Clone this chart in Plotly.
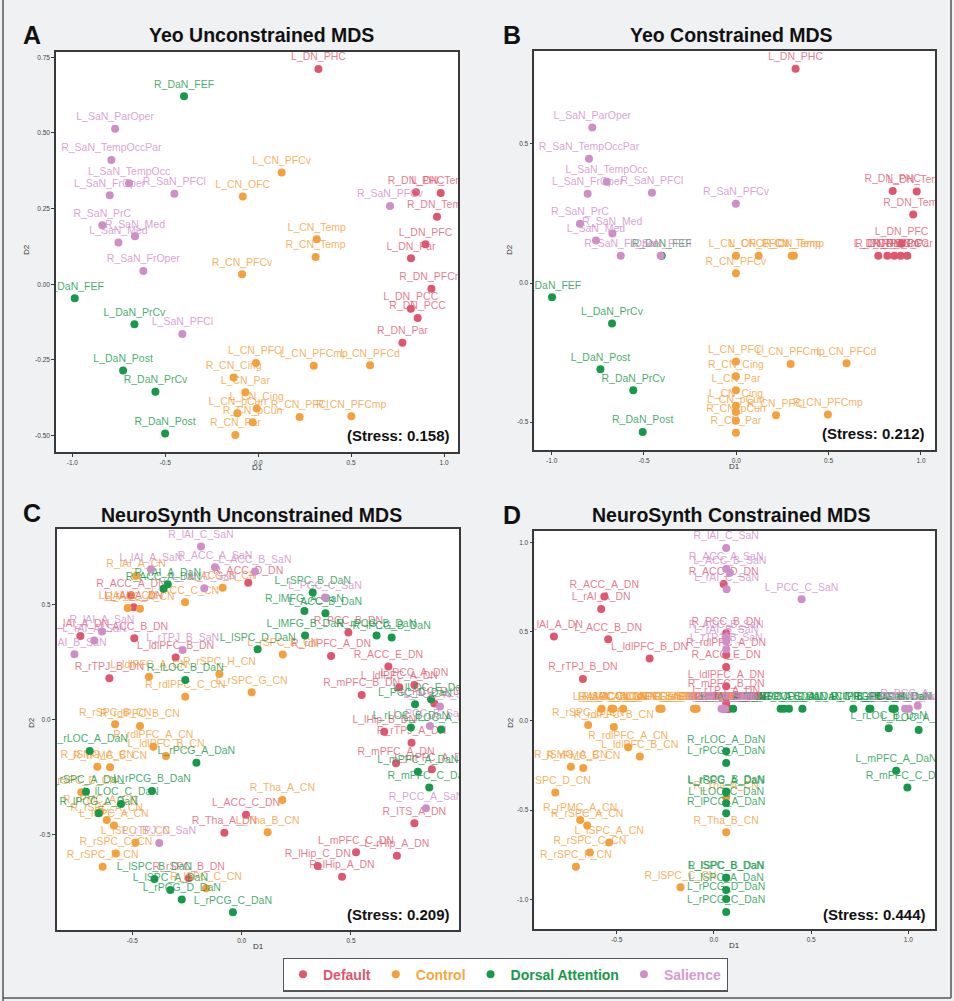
import plotly.graph_objects as go

FONT = "Liberation Sans, Arial, sans-serif"

# ---------------- Panel A: Yeo unconstrained ----------------
A_labels = ["L_DN_PHC","R_DaN_FEF","L_SaN_ParOper","R_SaN_TempOccPar","L_CN_PFCv","L_SaN_TempOcc",
            "L_SaN_FrOper","R_SaN_PFCl","L_CN_OFC","R_DN_PHC","L_DN_Temp","R_SaN_PFCv","R_DN_Temp",
            "R_SaN_PrC","R_SaN_Med","L_SaN_Med","L_CN_Temp","L_DN_PFC","R_CN_Temp","L_DN_Par",
            "R_SaN_FrOper","R_CN_PFCv","R_DN_PFCm","L_DaN_FEF","L_DN_PCC","R_DN_PCC","L_DaN_PrCv",
            "L_SaN_PFCl","R_DN_Par","L_CN_PFCl","L_CN_PFCmp","L_CN_PFCd","L_DaN_Post","R_CN_Cing",
            "L_CN_Par","R_DaN_PrCv","L_CN_Cing","L_CN_pCun","R_CN_pCun","R_CN_PFCl","R_CN_PFCmp",
            "R_CN_Par","R_DaN_Post"]
A_groups = ["DN","DaN","SaN","SaN","CN","SaN","SaN","SaN","CN","DN","DN","SaN","DN","SaN","SaN","SaN",
            "CN","DN","CN","DN","SaN","CN","DN","DaN","DN","DN","DaN","SaN","DN","CN","CN","CN","DaN",
            "CN","CN","DaN","CN","CN","CN","CN","CN","CN","DaN"]
A_x = [0.324,-0.399,-0.770,-0.790,0.126,-0.695,-0.799,-0.451,-0.083,0.849,0.982,0.709,0.962,-0.839,
       -0.663,-0.752,0.315,0.900,0.309,0.822,-0.618,-0.087,0.932,-0.987,0.821,0.858,-0.666,-0.408,
       0.776,-0.012,0.299,0.602,-0.727,-0.132,-0.069,-0.553,-0.008,-0.112,-0.030,0.223,0.501,-0.123,-0.501]
A_y = [0.711,0.621,0.514,0.411,0.369,0.334,0.294,0.299,0.290,0.304,0.302,0.259,0.223,0.195,0.159,
       0.138,0.149,0.132,0.090,0.086,0.044,0.033,-0.015,-0.046,-0.081,-0.111,-0.132,-0.164,-0.193,
       -0.260,-0.269,-0.267,-0.285,-0.308,-0.357,-0.355,-0.410,-0.426,-0.456,-0.438,-0.436,-0.498,-0.493]

# ---------------- Panel B: Yeo constrained ----------------
B_labels = ["L_DN_PHC","L_SaN_ParOper","R_SaN_TempOccPar","L_SaN_TempOcc","L_SaN_FrOper","R_SaN_PFCl",
            "R_SaN_PFCv","R_DN_PHC","L_DN_Temp","R_DN_Temp","R_SaN_PrC","R_SaN_Med","L_SaN_Med",
            "L_DN_PFC","R_SaN_FrOper","L_SaN_PFCl","R_DaN_FEF","L_CN_OFC","L_CN_PFCv","L_CN_Temp",
            "R_CN_Temp","R_CN_PFCv","L_DN_Par","R_DN_PFCm","L_DN_PCC","R_DN_PCC","R_DN_Par","L_DaN_FEF",
            "L_DaN_PrCv","L_CN_PFCl","L_CN_PFCmp","L_CN_PFCd","L_DaN_Post","R_CN_Cing","L_CN_Par",
            "R_DaN_PrCv","L_CN_Cing","L_CN_pCun","R_CN_pCun","R_CN_PFCl","R_CN_PFCmp","R_CN_Par","R_DaN_Post"]
B_groups = ["DN","SaN","SaN","SaN","SaN","SaN","SaN","DN","DN","DN","SaN","SaN","SaN","DN","SaN","SaN",
            "DaN","CN","CN","CN","CN","CN","DN","DN","DN","DN","DN","DaN","DaN","CN","CN","CN","DaN",
            "CN","CN","DaN","CN","CN","CN","CN","CN","CN","DaN"]
B_x = [0.321,-0.780,-0.798,-0.702,-0.805,-0.457,-0.002,0.847,0.977,0.958,-0.847,-0.671,-0.760,0.895,
       -0.626,-0.410,-0.404,-0.002,0.121,0.300,0.312,-0.002,0.769,0.818,0.856,0.890,0.926,-0.998,
       -0.673,-0.002,0.294,0.597,-0.736,-0.002,-0.002,-0.558,-0.002,-0.002,-0.002,0.215,0.496,-0.002,-0.507]
B_y = [0.770,0.559,0.447,0.364,0.321,0.325,0.285,0.331,0.329,0.246,0.213,0.178,0.153,0.141,0.098,
       0.098,0.098,0.098,0.098,0.098,0.098,0.035,0.098,0.098,0.098,0.098,0.098,-0.051,-0.145,-0.282,
       -0.291,-0.288,-0.310,-0.335,-0.385,-0.385,-0.441,-0.463,-0.495,-0.475,-0.472,-0.538,-0.535]

# ---------------- Panel C: NeuroSynth unconstrained ----------------
C_labels = ["R_lAI_C_SaN","R_ACC_A_SaN","L_ACC_B_SaN","R_ACC_D_DN","R_rAI_A_DaN","R_ACC_A_DaN",
            "R_lAI_A_CN","L_lAI_A_SaN","L_rAI_C_SaN","L_ACC_B_CN","R_ACC_A_DN","L_lAI_A_CN","R_ACC_A_CN",
            "L_ACC_C_CN","L_rSPC_B_DaN","L_PCC_C_SaN","R_lMFG_A_DaN","L_ACC_B_DaN","L_lAI_A_DN",
            "R_lAI_A_SaN","L_rAI_A_SaN","L_ACC_B_DN","L_rAI_B_SaN","L_rTPJ_B_SaN","L_ldlPFC_B_DN",
            "L_lMFG_B_DaN","R_PCC_B_DN","R_rPCG_B_DaN","R_lPCG_B_DaN","L_lSPC_D_DaN","L_rSPC_E_CN",
            "R_rdlPFC_A_DN","R_ACC_E_DN","R_rTPJ_B_DN","L_ldlPFC_A_CN","R_lLOC_B_DaN","R_rSPC_H_CN",
            "R_rdlPFC_C_CN","L_rSPC_G_CN","R_rSPC_B_CN","R_rdlPFC_B_CN","L_rLOC_A_DaN","R_rdlPFC_A_CN",
            "L_ldlPFC_B_CN","L_rPCG_A_DaN","R_lSMG_A_CN","R_rPMC_B_CN","L_rSPC_A_DaN","L_rSPC_D_CN",
            "L_rPCG_B_DaN","L_lLOC_C_DaN","R_lPCG_A_DaN","R_rPMC_A_CN","R_rSPC_A_CN","L_lSPC_A_CN",
            "L_lSPC_B_CN","L_rTPJ_C_SaN","R_rSPC_C_CN","R_rSPC_F_CN","R_Tha_A_CN","L_ACC_C_DN",
            "R_Tha_A_DN","L_Tha_B_CN","L_lSPC_B_DaN","R_rSPC_B_DN","R_lSPC_C_CN","L_lSPC_A_DaN",
            "L_rPCG_D_DaN","L_rPCG_C_DaN","L_mPFC_C_DN","L_rHip_A_DN","R_lHip_C_DN","R_lHip_A_DN",
            "R_PCC_A_SaN","R_ITS_A_DN","L_ldlPFC_A_DN","L_PCC_A_DN","R_mPFC_B_DN","L_PCC_D_DaN",
            "L_lLOC_E_DaN","L_PCC_E_DN","L_PCC_A_SaN","L_rLOC_B_DaN","L_lHip_B_DN","L_PCC_B_SaN",
            "L_lLOC_A_DaN","R_rTPJ_A_DN","R_mPFC_A_DN","L_mPFC_A_DN","L_mPFC_A_DaN","R_mPFC_C_DaN",
            "L_rAI_A_DN"]
C_groups = ["SaN","SaN","SaN","DN","DaN","DaN","CN","SaN","SaN","CN","DN","CN","CN","CN","DaN","SaN",
            "DaN","DaN","DN","SaN","SaN","DN","SaN","SaN","DN","DaN","DN","DaN","DaN","DaN","CN","DN",
            "DN","DN","CN","DaN","CN","CN","CN","CN","CN","DaN","CN","CN","DaN","CN","CN","DaN","CN",
            "DaN","DaN","DaN","CN","CN","CN","CN","SaN","CN","CN","CN","DN","DN","CN","DaN","DN","CN",
            "DaN","DaN","DaN","DN","DN","DN","DN","SaN","DN","DN","DN","DN","DaN","DaN","DN","SaN",
            "DaN","DN","SaN","DaN","DN","DN","DN","DaN","DaN","DN"]
C_x = [-0.186,-0.122,0.061,0.030,-0.338,-0.358,-0.483,-0.415,-0.171,-0.087,-0.506,-0.521,-0.465,
       -0.259,0.325,0.381,0.287,0.383,-0.738,-0.639,-0.674,-0.491,-0.765,-0.270,-0.302,0.290,0.488,
       0.617,0.686,0.073,0.188,0.409,0.671,-0.605,-0.424,-0.258,-0.102,-0.258,0.046,-0.579,-0.465,
       -0.695,-0.404,-0.346,-0.207,-0.660,-0.602,-0.712,-0.733,-0.410,-0.552,-0.654,-0.648,-0.617,
       -0.584,-0.486,-0.377,-0.575,-0.636,0.186,0.020,-0.079,0.119,-0.399,-0.242,-0.163,-0.326,
       -0.274,-0.040,0.523,0.710,0.348,0.459,0.843,0.790,0.721,0.790,0.549,0.793,0.866,0.881,0.907,
       0.774,0.652,0.861,0.912,0.777,0.706,0.870,0.806,0.858,-0.494]
C_y = [0.754,0.664,0.645,0.596,0.590,0.570,0.626,0.655,0.572,0.575,0.542,0.487,0.483,0.512,0.554,
       0.532,0.474,0.464,0.365,0.384,0.345,0.355,0.286,0.304,0.271,0.367,0.380,0.367,0.358,0.307,
       0.284,0.278,0.232,0.181,0.188,0.174,0.200,0.101,0.120,-0.019,-0.026,-0.135,-0.116,-0.157,
       -0.186,-0.203,-0.206,-0.312,-0.314,-0.309,-0.365,-0.406,-0.400,-0.435,-0.459,-0.533,-0.535,
       -0.580,-0.638,-0.348,-0.412,-0.490,-0.488,-0.691,-0.688,-0.732,-0.739,-0.780,-0.836,-0.575,
       -0.590,-0.635,-0.681,-0.384,-0.449,0.142,0.152,0.109,0.068,0.090,0.072,0.058,-0.033,-0.051,
       -0.026,-0.041,-0.099,-0.188,-0.214,-0.225,-0.294,0.490]

# ---------------- Panel D: NeuroSynth constrained ----------------
D_labels = ["R_lAI_C_SaN","R_ACC_A_SaN","L_ACC_B_SaN","L_rAI_C_SaN","L_PCC_C_SaN","R_ACC_B_SaN",
            "L_rAI_B_SaN","L_rTPJ_B_SaN","L_lAI_A_SaN","R_lAI_A_SaN","L_rAI_A_SaN","L_rTPJ_C_SaN",
            "L_PCC_A_SaN","L_PCC_B_SaN","R_PCC_A_SaN",
            "R_ACC_D_DN","R_ACC_A_DN","L_rAI_A_DN","L_lAI_A_DN","L_ACC_B_DN","R_PCC_B_DN","R_rdlPFC_A_DN",
            "L_ldlPFC_B_DN","R_ACC_E_DN","R_rTPJ_B_DN","L_ldlPFC_A_DN","R_mPFC_B_DN","L_rTPJ_A_DN",
            "L_ACC_C_DN","R_Tha_A_DN","R_rSPC_B_DN","L_mPFC_C_DN","L_rHip_A_DN","R_lHip_C_DN",
            "R_lHip_A_DN","R_ITS_A_DN","L_PCC_A_DN","L_PCC_E_DN","L_lHip_B_DN","R_mPFC_A_DN","L_mPFC_A_DN",
            "L_lAI_A_CN","R_lAI_A_CN","R_ACC_A_CN","L_ACC_C_CN","L_lSPC_B_CN","L_ACC_B_CN","L_ldlPFC_A_CN",
            "L_rSPC_E_CN","R_rdlPFC_C_CN","R_rSPC_H_CN","L_rSPC_G_CN","R_rSPC_B_CN","R_rdlPFC_B_CN",
            "R_rdlPFC_A_CN","L_ldlPFC_B_CN","R_lSMG_A_CN","R_rPMC_B_CN","L_rSPC_D_CN","R_Tha_A_CN",
            "R_Tha_B_CN","R_rPMC_A_CN","R_rSPC_A_CN","L_lSPC_A_CN","R_rSPC_C_CN","R_rSPC_F_CN","R_lSPC_C_CN",
            "R_rAI_A_DaN","R_ACC_A_DaN","L_lSPC_D_DaN","L_rSPC_B_DaN","R_lMFG_A_DaN","L_ACC_B_DaN",
            "L_lMFG_B_DaN","R_lPCG_B_DaN","R_rPCG_B_DaN","L_PCC_D_DaN","L_lLOC_E_DaN","L_rLOC_B_DaN",
            "L_lLOC_A_DaN","R_rLOC_A_DaN","L_rPCG_A_DaN","L_mPFC_A_DaN","R_mPFC_C_DaN","L_rPCG_B_DaN",
            "L_rSPC_A_DaN","L_lLOC_C_DaN","R_lPCG_A_DaN","R_lSPC_B_DaN","L_lSPC_B_DaN","L_lSPC_A_DaN",
            "L_rPCG_D_DaN","L_rPCG_C_DaN"]
D_groups = (["SaN"] * 15) + (["DN"] * 26) + (["CN"] * 26) + (["DaN"] * 26)
D_x = [0.063,0.063,0.082,0.065,0.451,0.063,0.063,0.063,0.039,0.057,0.045,0.050,0.983,1.003,1.048,
       0.050,-0.564,-0.580,-0.823,-0.544,0.063,0.063,-0.331,0.063,-0.674,0.063,0.063,0.063,
       0.074,0.060,0.066,0.070,0.068,0.072,0.062,0.058,0.076,0.078,0.064,0.066,0.070,
       -0.578,-0.527,-0.518,-0.467,-0.522,-0.281,-0.269,-0.275,-0.103,-0.089,-0.095,-0.647,-0.515,
       -0.441,-0.381,-0.736,-0.672,-0.816,0.063,0.063,-0.688,-0.652,-0.539,-0.638,-0.710,-0.172,
       0.099,0.343,0.360,0.386,0.455,0.717,0.799,0.805,0.918,0.925,0.930,0.899,1.053,0.063,0.063,
       0.937,0.995,0.063,0.063,0.063,0.063,0.063,0.063,0.063,0.063,0.063]
D_y = [0.968,0.851,0.830,0.737,0.681,0.470,0.444,0.401,0.067,0.067,0.067,0.067,0.067,0.067,0.084,
       0.767,0.696,0.627,0.472,0.457,0.491,0.369,0.349,0.301,0.234,0.193,0.140,0.100,
       0.067,0.067,0.067,0.067,0.067,0.067,0.067,0.067,0.067,0.067,0.067,0.067,0.067,
       0.067,0.067,0.067,0.067,0.067,0.067,0.067,0.067,0.067,0.067,0.067,-0.024,-0.034,
       -0.148,-0.200,-0.258,-0.264,-0.402,-0.428,-0.624,-0.555,-0.587,-0.682,-0.738,-0.817,-0.933,
       0.067,0.067,0.067,0.067,0.067,0.067,0.067,0.067,0.067,0.067,0.067,-0.041,-0.052,-0.170,-0.237,
       -0.280,-0.374,-0.396,-0.400,-0.462,-0.518,-0.879,-0.879,-0.948,-0.998,-1.071]

stress_text = ["(Stress: 0.158)", "(Stress: 0.212)", "(Stress: 0.209)", "(Stress: 0.444)"]
titles = ["Yeo Unconstrained MDS", "Yeo Constrained MDS", "NeuroSynth Unconstrained MDS", "NeuroSynth Constrained MDS"]
letters = ["A", "B", "C", "D"]

group_order = ["DN", "CN", "DaN", "SaN"]
group_names = {"DN": "Default", "CN": "Control", "DaN": "Dorsal Attention", "SaN": "Salience"}
marker_col = {"DN": "#e0566e", "CN": "#f5a03c", "DaN": "#16994a", "SaN": "#cf8ec8"}
label_col = {"DN": "rgba(224,86,110,0.78)", "CN": "rgba(245,160,60,0.82)",
             "DaN": "rgba(22,153,74,0.82)", "SaN": "rgba(207,142,200,0.82)"}
legend_txt_col = {"DN": "#e0566e", "CN": "#f5a842", "DaN": "#16994a", "SaN": "#d49bce"}

# tick definitions
A_xticks = [-1.0, -0.5, 0.0, 0.5, 1.0]
A_yticks = [-0.50, -0.25, 0.00, 0.25, 0.50, 0.75]
B_xticks = [-1.0, -0.5, 0.0, 0.5, 1.0]
B_yticks = [-0.5, 0.0, 0.5]
C_xticks = [-0.5, 0.0, 0.5]
C_yticks = [-0.5, 0.0, 0.5]
D_xticks = [-0.5, 0.0, 0.5, 1.0]
D_yticks = [-1.0, -0.5, 0.0, 0.5, 1.0]

panels = [
    (A_labels, A_groups, A_x, A_y, "x", "y"),
    (B_labels, B_groups, B_x, B_y, "x2", "y2"),
    (C_labels, C_groups, C_x, C_y, "x3", "y3"),
    (D_labels, D_groups, D_x, D_y, "x4", "y4"),
]

fig = go.Figure()
for pi, (labs, grps, xs, ys, xa, ya) in enumerate(panels):
    for g in group_order:
        idx = [i for i, gg in enumerate(grps) if gg == g]
        fig.add_trace(go.Scatter(
            x=[xs[i] for i in idx], y=[ys[i] for i in idx], text=[labs[i] for i in idx],
            mode="markers+text", textposition="top center",
            marker=dict(color=marker_col[g], size=8, line=dict(width=0)),
            textfont=dict(color=label_col[g], size=10.5, family=FONT),
            name="<b><span style='color:%s'>%s</span></b>" % (legend_txt_col[g], group_names[g]),
            legendgroup=g, showlegend=(pi == 0), xaxis=xa, yaxis=ya, hoverinfo="skip",
            cliponaxis=True))

def axis(domain, rng, ticks, fmt, anchor):
    return dict(domain=domain, range=rng, tickvals=ticks, ticktext=[fmt % t for t in ticks],
                showgrid=False, zeroline=False, showline=True, mirror=True, linecolor="#3a3a3a",
                linewidth=1.5, ticks="outside", ticklen=3, tickwidth=1, tickcolor="#3a3a3a",
                tickfont=dict(size=6.5, color="#444444", family=FONT), anchor=anchor, fixedrange=True)

W, H = 954, 1001
def px(xp): return xp / W
def py(yp): return 1 - yp / H

fig.update_layout(
    width=W, height=H, margin=dict(l=0, r=0, t=0, b=0),
    paper_bgcolor="#eff1f3", plot_bgcolor="white",
    font=dict(family=FONT),
    xaxis=axis([px(56), px(458)], [-1.088, 1.075], A_xticks, "%.1f", "y"),
    yaxis=axis([py(452), py(52)], [-0.554, 0.7675], A_yticks, "%.2f", "x"),
    xaxis2=axis([px(534.3), px(935)], [-1.094, 1.076], B_xticks, "%.1f", "y2"),
    yaxis2=axis([py(450), py(51)], [-0.600, 0.834], B_yticks, "%.1f", "x2"),
    xaxis3=axis([px(56.7), px(459)], [-0.846, 0.994], C_xticks, "%.1f", "y3"),
    yaxis3=axis([py(930), py(529)], [-0.913, 0.830], C_yticks, "%.1f", "x3"),
    xaxis4=axis([px(534.3), px(935)], [-0.924, 1.137], D_xticks, "%.1f", "y4"),
    yaxis4=axis([py(929.3), py(530.7)], [-1.168, 1.065], D_yticks, "%.1f", "x4"),
    showlegend=True,
    legend=dict(orientation="h", x=px(505.5), y=py(974.5), xanchor="center", yanchor="middle",
                bgcolor="white", bordercolor="#555555", borderwidth=1.2,
                font=dict(size=14, family=FONT), itemwidth=30, tracegroupgap=0),
)

ann = []
title_pos = [(261, 35), (731, 35), (251.7, 515), (731, 515)]
letter_pos = [(32, 35), (512, 35), (32, 513), (512, 515)]
stress_pos = [(451.7, 435), (927, 433), (452, 914), (928, 914)]
d1_pos = [(257, 467), (734.5, 466.5), (258, 946), (734.5, 945)]
d2_pos = [(27, 250), (510, 250), (31, 722), (510, 723)]
for i in range(4):
    ann.append(dict(text="<b>%s</b>" % titles[i], x=px(title_pos[i][0]), y=py(title_pos[i][1]),
                    xref="paper", yref="paper", showarrow=False, xanchor="center", yanchor="middle",
                    font=dict(size=19.5, color="#111111", family=FONT)))
    ann.append(dict(text="<b>%s</b>" % letters[i], x=px(letter_pos[i][0]), y=py(letter_pos[i][1]),
                    xref="paper", yref="paper", showarrow=False, xanchor="center", yanchor="middle",
                    font=dict(size=25, color="#111111", family=FONT)))
    ann.append(dict(text="<b>%s</b>" % stress_text[i], x=px(stress_pos[i][0]), y=py(stress_pos[i][1]),
                    xref="paper", yref="paper", showarrow=False, xanchor="right", yanchor="middle",
                    font=dict(size=15, color="#111111", family=FONT)))
    ann.append(dict(text="D1", x=px(d1_pos[i][0]), y=py(d1_pos[i][1]), xref="paper", yref="paper",
                    showarrow=False, xanchor="center", yanchor="middle",
                    font=dict(size=8, color="#333333", family=FONT)))
    ann.append(dict(text="D2", x=px(d2_pos[i][0]), y=py(d2_pos[i][1]), xref="paper", yref="paper",
                    showarrow=False, xanchor="center", yanchor="middle", textangle=-90,
                    font=dict(size=8, color="#333333", family=FONT)))
fig.update_layout(annotations=ann)

fig.update_layout(shapes=[
    dict(type="line", xref="paper", yref="paper", x0=px(3), x1=px(3), y0=0, y1=1,
         line=dict(color="#555555", width=1.5)),
    dict(type="line", xref="paper", yref="paper", x0=px(3), x1=px(951), y0=py(998), y1=py(998),
         line=dict(color="#555555", width=1.5)),
    dict(type="line", xref="paper", yref="paper", x0=px(951), x1=px(951), y0=py(998), y1=1,
         line=dict(color="#555555", width=1.5)),
])

fig.write_html("out.html")
